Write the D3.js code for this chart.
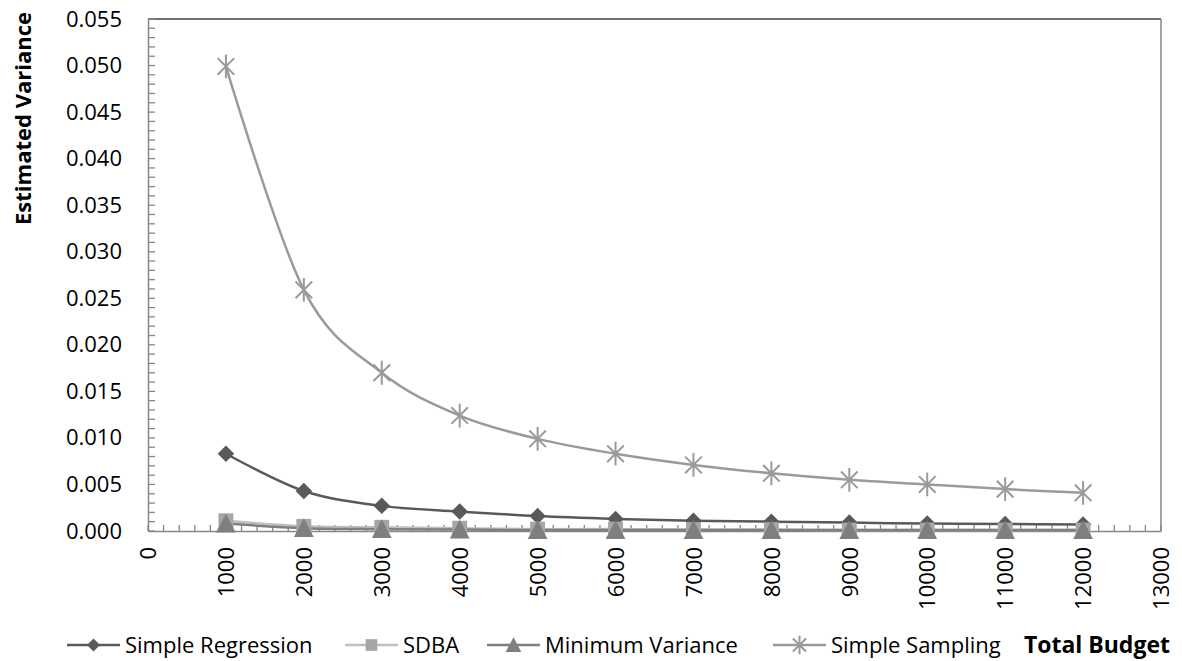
<!DOCTYPE html>
<html>
<head>
<meta charset="utf-8">
<script src="https://cdn.jsdelivr.net/npm/d3@7"></script>
<style>
  body { margin: 0; background: #fff; }
  text { font-family: "Open Sans", sans-serif; }
</style>
</head>
<body>
<svg id="chart"></svg>
<script>
const budgets = [1000, 2000, 3000, 4000, 5000, 6000, 7000, 8000, 9000, 10000, 11000, 12000];
const simpleRegression = [0.0083, 0.0043, 0.0027, 0.0021, 0.0016, 0.0013, 0.0011, 0.0010, 0.0009, 0.0008, 0.00075, 0.0007];
const sdba = [0.0011, 0.0005, 0.0004, 0.0003, 0.0002, 0.0002, 0.00015, 0.00015, 0.0001, 0.0001, 0.0001, 0.0001];
const minimumVariance = [0.0008, 0.0003, 0.0002, 0.00015, 0.0001, 0.0001, 0.0001, 0.0001, 0.0001, 0.0001, 0.0001, 0.0001];
const simpleSampling = [0.0499, 0.0259, 0.0170, 0.0124, 0.0099, 0.0083, 0.0071, 0.0062, 0.0055, 0.0050, 0.0045, 0.0041];
const xTicks = [0, 1000, 2000, 3000, 4000, 5000, 6000, 7000, 8000, 9000, 10000, 11000, 12000, 13000];
const yTicks = [0, 0.005, 0.01, 0.015, 0.02, 0.025, 0.03, 0.035, 0.04, 0.045, 0.05, 0.055];

const series = [
  { name: "Simple Regression", values: simpleRegression, line: "#595959", fill: "#595959", marker: "diamond" },
  { name: "SDBA", values: sdba, line: "#bfbfbf", fill: "#a6a6a6", marker: "square" },
  { name: "Minimum Variance", values: minimumVariance, line: "#7f7f7f", fill: "#7f7f7f", marker: "triangle" },
  { name: "Simple Sampling", values: simpleSampling, line: "#9a9a9a", fill: "#9a9a9a", marker: "asterisk" }
];

const width = 1182, height = 661;
const margin = { left: 148, right: 21, top: 19, bottom: 130 };

const svg = d3.select("#chart").attr("width", width).attr("height", height);

const x = d3.scaleLinear().domain([0, 13000]).range([margin.left, width - margin.right]);
const y = d3.scaleLinear().domain([0, 0.055]).range([height - margin.bottom, margin.top]);

// plot border (top + right)
svg.append("line")
  .attr("x1", x(0)).attr("x2", x(13000))
  .attr("y1", y(0.055)).attr("y2", y(0.055))
  .attr("stroke", "#404040").attr("stroke-width", 1.5);
svg.append("line")
  .attr("x1", x(13000)).attr("x2", x(13000))
  .attr("y1", y(0.055)).attr("y2", y(0))
  .attr("stroke", "#868686").attr("stroke-width", 1.5);

// minor ticks
svg.append("g").selectAll("line")
  .data(d3.range(0, 13001, 200))
  .join("line")
  .attr("x1", d => x(d)).attr("x2", d => x(d))
  .attr("y1", y(0)).attr("y2", y(0) - 6)
  .attr("stroke", "#868686").attr("stroke-width", 1.3);

svg.append("g").selectAll("line")
  .data(d3.range(0, 56).map(i => i * 0.001))
  .join("line")
  .attr("x1", x(0)).attr("x2", x(0) + 7)
  .attr("y1", d => y(d)).attr("y2", d => y(d))
  .attr("stroke", "#868686").attr("stroke-width", 1.3);

// axes
const yAxis = svg.append("g")
  .attr("transform", `translate(${x(0)},0)`)
  .call(d3.axisLeft(y).tickValues(yTicks).tickFormat(d3.format(".3f")).tickSize(0).tickPadding(26));
yAxis.select(".domain").attr("stroke", "#868686").attr("stroke-width", 1.5);
yAxis.selectAll("text").attr("font-size", 22).attr("fill", "#000")
  .style("font-family", "'Open Sans', sans-serif");

const xAxis = svg.append("g")
  .attr("transform", `translate(0,${y(0)})`)
  .call(d3.axisBottom(x).tickValues(xTicks).tickFormat(d3.format("d")).tickSize(0));
xAxis.select(".domain").attr("stroke", "#868686").attr("stroke-width", 1.5);
xAxis.selectAll("text")
  .attr("font-size", 22).attr("fill", "#000")
  .style("font-family", "'Open Sans', sans-serif")
  .attr("text-anchor", "end")
  .attr("transform", "rotate(-90)")
  .attr("x", -16).attr("y", 0).attr("dy", "0.35em");

// lines
const lineGen = d3.line()
  .x((d, i) => x(budgets[i]))
  .y(d => y(d))
  .curve(d3.curveCatmullRom.alpha(0));

const plot = svg.append("g");
series.forEach(s => {
  plot.append("path")
    .datum(s.values)
    .attr("fill", "none")
    .attr("stroke", s.line)
    .attr("stroke-width", 2.5)
    .attr("d", lineGen);
});

function drawMarker(g, type, color, size) {
  if (type === "diamond") {
    const r = size * 0.5;
    g.append("path").attr("d", `M0,${-r}L${r},0L0,${r}L${-r},0Z`).attr("fill", color);
  } else if (type === "square") {
    const r = size * 0.45;
    g.append("rect").attr("x", -r).attr("y", -r).attr("width", 2 * r).attr("height", 2 * r).attr("fill", color);
  } else if (type === "triangle") {
    const r = size * 0.6;
    g.append("path").attr("d", `M0,${-r}L${r},${r * 0.9}L${-r},${r * 0.9}Z`).attr("fill", color);
  } else if (type === "asterisk") {
    const r = size * 0.72;
    const a = r * 0.7;
    g.append("path")
      .attr("d", `M${-a},${-a}L${a},${a}M${-a},${a}L${a},${-a}M0,${-r}L0,${r}`)
      .attr("stroke", color).attr("stroke-width", 2).attr("fill", "none");
  }
}

series.forEach(s => {
  s.values.forEach((v, i) => {
    const g = plot.append("g").attr("transform", `translate(${x(budgets[i])},${y(v)})`);
    drawMarker(g, s.marker, s.fill, 16.5);
  });
});

// y axis title
svg.append("text")
  .attr("transform", "translate(31,12) rotate(-90)")
  .attr("text-anchor", "end")
  .attr("font-size", 22)
  .attr("font-weight", "bold")
  .text("Estimated Variance");

// legend
const legendY = 645;
const legendItems = [
  { s: series[0], x0: 67 },
  { s: series[1], x0: 345 },
  { s: series[2], x0: 487 },
  { s: series[3], x0: 773 }
];
legendItems.forEach(li => {
  const g = svg.append("g");
  g.append("line")
    .attr("x1", li.x0).attr("x2", li.x0 + 53)
    .attr("y1", legendY).attr("y2", legendY)
    .attr("stroke", li.s.line).attr("stroke-width", 2.5);
  const m = g.append("g").attr("transform", `translate(${li.x0 + 26.5},${legendY})`);
  drawMarker(m, li.s.marker, li.s.fill, 13);
  g.append("text")
    .attr("x", li.x0 + 58).attr("y", legendY).attr("dy", "0.35em")
    .attr("font-size", 22)
    .text(li.s.name);
});

svg.append("text")
  .attr("x", 1170).attr("y", legendY).attr("dy", "0.35em")
  .attr("text-anchor", "end")
  .attr("font-size", 23)
  .attr("font-weight", "bold")
  .text("Total Budget");
</script>
</body>
</html>
